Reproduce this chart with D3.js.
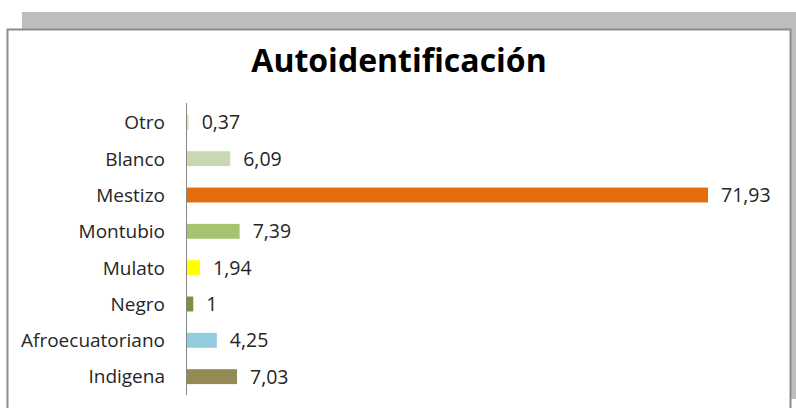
<!DOCTYPE html>
<html>
<head>
<meta charset="utf-8">
<script src="https://cdn.jsdelivr.net/npm/d3@7"></script>
<style>
  body { margin: 0; background: #fff; }
  svg { display: block; }
  text { font-family: "Open Sans", "DejaVu Sans", sans-serif; }
</style>
</head>
<body>
<svg id="chart" width="796" height="408"></svg>
<script>
const categories = ["Otro", "Blanco", "Mestizo", "Montubio", "Mulato", "Negro", "Afroecuatoriano", "Indigena"];
const values = [0.37, 6.09, 71.93, 7.39, 1.94, 1, 4.25, 7.03];
const valueLabels = ["0,37", "6,09", "71,93", "7,39", "1,94", "1", "4,25", "7,03"];
const barColors = ["#d8e4bc", "#c6d9b0", "#e46c0a", "#a6c36f", "#ffff00", "#77933c", "#93cddd", "#948a54"];

const svg = d3.select("#chart");

// shadow and frame
svg.append("rect")
    .attr("x", 22).attr("y", 12)
    .attr("width", 774).attr("height", 387)
    .attr("fill", "#bdbdbd");
svg.append("rect")
    .attr("x", 7.5).attr("y", 29.5)
    .attr("width", 783).attr("height", 400)
    .attr("fill", "#fff")
    .attr("stroke", "#8c8c8c")
    .attr("stroke-width", 2);

svg.append("text")
    .attr("x", 399).attr("y", 72)
    .attr("text-anchor", "middle")
    .attr("font-size", 32)
    .attr("font-weight", "bold")
    .attr("fill", "#000")
    .text("Autoidentificación");

const x = d3.scaleLinear().domain([0, 71.93]).range([186, 708]);
const y = d3.scaleBand().domain(categories).range([104, 395]).paddingInner(0.59).paddingOuter(0.3);

// bars
svg.append("g").selectAll("rect")
    .data(categories)
    .join("rect")
    .attr("x", x(0))
    .attr("y", d => y(d))
    .attr("width", (d, i) => x(values[i]) - x(0))
    .attr("height", y.bandwidth())
    .attr("fill", (d, i) => barColors[i]);

// value labels
svg.append("g").selectAll("text")
    .data(categories)
    .join("text")
    .attr("x", (d, i) => x(values[i]) + 13)
    .attr("y", d => y(d) + y.bandwidth() / 2)
    .attr("dy", "0.36em")
    .attr("font-size", 19.5)
    .attr("fill", "#262626")
    .text((d, i) => valueLabels[i]);

// category axis
const axis = svg.append("g")
    .attr("transform", `translate(${x(0)},0)`)
    .call(d3.axisLeft(y).tickSize(0).tickPadding(21));
axis.select(".domain").attr("stroke", "#868686").attr("d", "M0.5,103V395");
axis.selectAll("text")
    .attr("font-size", 19)
    .attr("dy", "0.36em")
    .attr("font-family", "'Open Sans', 'DejaVu Sans', sans-serif")
    .attr("fill", "#262626");
</script>
</body>
</html>
